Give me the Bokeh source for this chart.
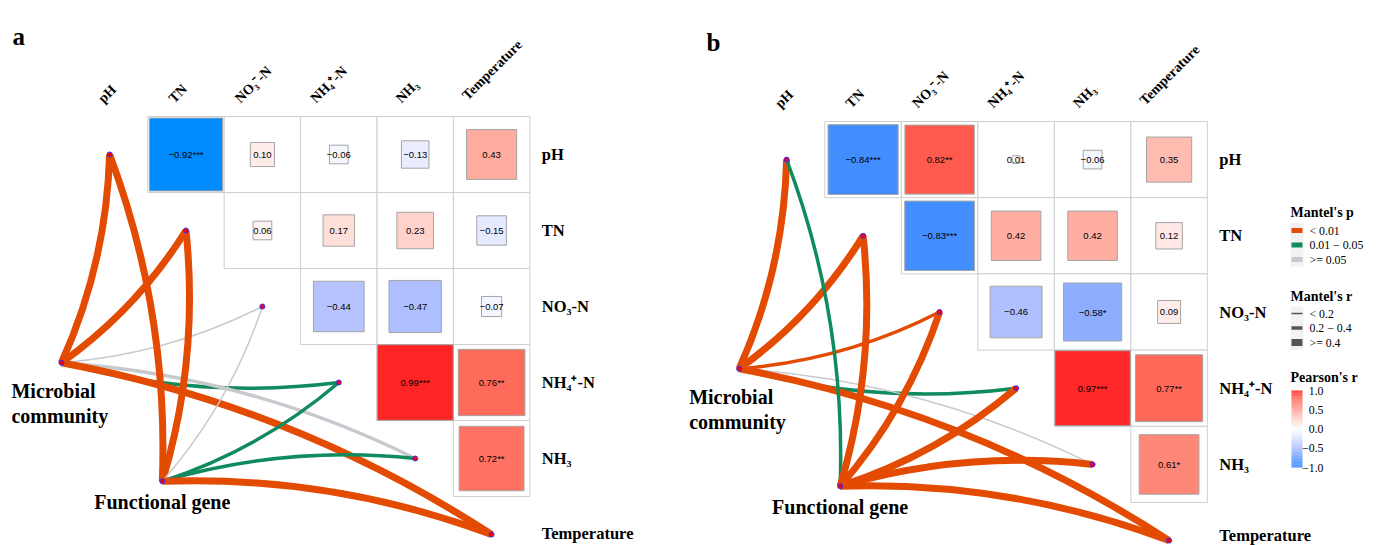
import numpy as np
from bokeh.plotting import figure
from bokeh.models import ColumnDataSource, Range1d, LinearColorMapper
from bokeh.layouts import row
from bokeh.embed import file_html
from bokeh.resources import INLINE
from bokeh.core.properties import value

# ---------------- data ----------------
variables = ["pH", "TN", "NO3-N", "NH4-N", "NH3", "Temperature"]
header_labels = ["pH", "TN", "NO\u2083\u207b-N", "NH\u2084\u207a-N", "NH\u2083", "Temperature"]
row_labels = ["pH", "TN", "NO\u2083-N", "NH\u2084\u207a-N", "NH\u2083", "Temperature"]

# Pearson's r, upper triangle (row i, columns i+1 ... 5)
a_r = [[-0.92, 0.10, -0.06, -0.13, 0.43],
       [0.06, 0.17, 0.23, -0.15],
       [-0.44, -0.47, -0.07],
       [0.99, 0.76],
       [0.72]]
a_sig = [["***", "", "", "", ""],
         ["", "", "", ""],
         ["", "", ""],
         ["***", "**"],
         ["**"]]

b_r = [[-0.84, 0.82, 0.01, -0.06, 0.35],
       [-0.83, 0.42, 0.42, 0.12],
       [-0.46, -0.58, 0.09],
       [0.97, 0.77],
       [0.61]]
b_sig = [["***", "**", "", "", ""],
         ["***", "", "", ""],
         ["", "*", ""],
         ["***", "**"],
         ["*"]]

spec_names = ["Microbial community", "Functional gene"]
mantel_p_classes = ["< 0.01", "0.01 \u2212 0.05", ">= 0.05"]
mantel_r_classes = ["< 0.2", "0.2 \u2212 0.4", ">= 0.4"]

P1, P2, P3 = mantel_p_classes
R1, R2, R3 = mantel_r_classes

# Mantel test classes for each env variable (pH, TN, NO3, NH4, NH3, Temperature)
a_micro_p = [P1, P1, P3, P2, P3, P1]
a_micro_r = [R3, R3, R1, R2, R2, R3]
a_func_p = [P1, P1, P3, P2, P2, P1]
a_func_r = [R3, R3, R1, R2, R2, R3]

b_micro_p = [P1, P1, P1, P2, P3, P1]
b_micro_r = [R3, R3, R2, R2, R1, R3]
b_func_p = [P2, P1, P1, P1, P1, P1]
b_func_r = [R2, R3, R3, R3, R3, R3]

pearson_ticks = [1.0, 0.5, 0.0, -0.5, -1.0]

# ---------------- styles ----------------
p_colors = {P1: "#E34B02", P2: "#0F8B5E", P3: "#C8C9CE"}
r_widths = {R1: 1.5, R2: 3.5, R3: 7.0}

SERIF = value("Liberation Serif")
SANS = value("Liberation Sans")

pos_stops = [(0.0, (255, 255, 255)), (0.35, (255, 188, 176)), (0.61, (255, 136, 120)),
             (0.77, (255, 106, 90)), (0.97, (255, 42, 42)), (1.0, (255, 35, 35))]
stops_a = [(-1.0, (0, 130, 255)), (-0.92, (0, 140, 255)), (-0.45, (182, 194, 255))] + pos_stops
stops_b = [(-1.0, (50, 135, 255)), (-0.83, (68, 143, 255)), (-0.58, (144, 174, 255)),
           (-0.46, (176, 192, 255))] + pos_stops

header_dx = [-9, -15, -25, -26, -17, -27]
header_dy = [-16, -16, -16, -16, -16, -19]

PAGE_H = 545


def build_palette(stops, n=256):
    t = np.linspace(-1, 1, n)
    pos = [s[0] for s in stops]
    chans = []
    for c in range(3):
        chans.append(np.interp(t, pos, [s[1][c] for s in stops]))
    return ["#%02x%02x%02x" % (int(round(r)), int(round(g)), int(round(b)))
            for r, g, b in zip(*chans)]


def fmt(r, s):
    txt = "%.2f" % r
    return txt.replace("-", "\u2212") + s


def make_panel(r_rows, sig_rows, mp, mr, fp, fr, spec_xy, stops,
               px0, py0, cw, ch, left_px, width, letter, letter_px, row_dy,
               legend=False):
    X = lambda px: (px - px0) / cw
    Y = lambda py: 5 - (py - py0) / ch
    height = PAGE_H
    p = figure(width=width, height=height,
               x_range=Range1d(X(left_px), X(left_px + width)),
               y_range=Range1d(Y(height), Y(0)),
               output_backend="svg", toolbar_location=None,
               x_axis_location=None, y_axis_location=None, min_border=0)
    p.grid.visible = False
    p.outline_line_color = None
    p.background_fill_color = "white"
    p.border_fill_color = "white"

    mapper = LinearColorMapper(palette=build_palette(stops), low=-1, high=1)

    xs, ys, rs, txt, side = [], [], [], [], []
    for i, (vals, sigs) in enumerate(zip(r_rows, sig_rows)):
        for k, (r, s) in enumerate(zip(vals, sigs)):
            j = i + 1 + k
            xs.append(j)
            ys.append(5 - i)
            rs.append(r)
            txt.append(fmt(r, s))
            side.append(np.sqrt(abs(r)))
    src = ColumnDataSource(dict(x=xs, y=ys, r=rs, t=txt, s=side))
    p.rect("x", "y", width=1, height=1, source=src, fill_color="white",
           line_color="#CFCFCF", line_width=1)
    p.rect("x", "y", width="s", height="s", source=src,
           fill_color={"field": "r", "transform": mapper},
           line_color="#A4A4A4", line_width=1)
    p.text("x", "y", text="t", source=src, text_font=SANS, text_font_size="9.5px",
           text_align="center", text_baseline="middle", text_color="black")

    # Mantel links
    envx = [k for k in range(6)]
    envy = [5 - k for k in range(6)]
    cx0, cy0, cx1, cy1, ccx, ccy, col, lw = [], [], [], [], [], [], [], []
    for (sx, sy), pcl, rcl in zip(spec_xy, [mp, fp], [mr, fr]):
        for k in range(6):
            ex, ey = envx[k], envy[k]
            dx, dy = ex - sx, ey - sy
            sgn = 1 if k < 4 else -1
            mx, my = (sx + ex) / 2, (sy + ey) / 2
            cx0.append(sx); cy0.append(sy); cx1.append(ex); cy1.append(ey)
            ccx.append(mx + sgn * 0.1 * dy)
            ccy.append(my - sgn * 0.1 * dx)
            col.append(p_colors[pcl[k]])
            lw.append(r_widths[rcl[k]])
    lsrc = ColumnDataSource(dict(x0=cx0, y0=cy0, x1=cx1, y1=cy1, cx=ccx, cy=ccy, c=col, w=lw))
    p.quadratic(x0="x0", y0="y0", x1="x1", y1="y1", cx="cx", cy="cy",
                line_color="c", line_width="w", source=lsrc)

    # nodes
    nx = envx + [xy[0] for xy in spec_xy]
    ny = envy + [xy[1] for xy in spec_xy]
    p.scatter(nx, ny, size=5, fill_color="#FF0000", line_color="#3030FF", line_width=1)

    # column headers
    p.text(x=envx, y=[5.5] * 6, text=header_labels, angle=45, angle_units="deg",
           x_offset=header_dx, y_offset=header_dy, text_align="left",
           text_baseline="middle", text_font=SERIF, text_font_style="bold",
           text_font_size="14px")
    # row labels
    p.text(x=[5.5] * 6, y=envy, text=row_labels, x_offset=12, y_offset=row_dy,
           text_align="left", text_baseline="middle",
           text_font=SERIF, text_font_style="bold", text_font_size="16.5px")

    # spec labels
    (mx_, my_), (fx_, fy_) = spec_xy
    p.text(x=[mx_, mx_], y=[my_, my_], text=["Microbial", "community"],
           x_offset=-50, y_offset=[28, 53], text_align="left", text_baseline="middle",
           text_font=SERIF, text_font_style="bold", text_font_size="20px")
    p.text(x=[fx_], y=[fy_], text=["Functional gene"], y_offset=21,
           text_align="center", text_baseline="middle",
           text_font=SERIF, text_font_style="bold", text_font_size="20px")

    # panel letter
    p.text(x=[X(letter_px[0])], y=[Y(letter_px[1])], text=[letter],
           text_align="left", text_baseline="middle",
           text_font=SERIF, text_font_style="bold", text_font_size="25px")

    if legend:
        lx = 1290
        tfs = "14px"
        lfs = "11.8px"
        # Mantel's p
        p.text(x=[X(lx)], y=[Y(212)], text=["Mantel's p"], text_align="left",
               text_baseline="middle", text_font=SERIF, text_font_style="bold",
               text_font_size=tfs)
        ky = [230, 244.5, 259]
        p.rect(x=[X(1296.5)] * 3, y=[Y(v) for v in ky], width=13, height=14.5,
               width_units="screen", height_units="screen",
               fill_color="#F2F2F2", line_color=None)
        p.rect(x=[X(1296.5)] * 3, y=[Y(v) for v in ky], width=11, height=5,
               width_units="screen", height_units="screen",
               fill_color=[p_colors[c] for c in mantel_p_classes], line_color=None)
        p.text(x=[X(1309)] * 3, y=[Y(v) for v in ky], text=mantel_p_classes,
               text_align="left", text_baseline="middle", text_font=SERIF,
               text_font_size=lfs)
        # Mantel's r
        p.text(x=[X(lx)], y=[Y(296)], text=["Mantel's r"], text_align="left",
               text_baseline="middle", text_font=SERIF, text_font_style="bold",
               text_font_size=tfs)
        ky2 = [313, 327.5, 342]
        p.rect(x=[X(1296.5)] * 3, y=[Y(v) for v in ky2], width=13, height=14.5,
               width_units="screen", height_units="screen",
               fill_color="#F2F2F2", line_color=None)
        p.rect(x=[X(1296.5)] * 3, y=[Y(v) for v in ky2], width=11,
               height=[r_widths[c] for c in mantel_r_classes],
               width_units="screen", height_units="screen",
               fill_color="#555555", line_color=None)
        p.text(x=[X(1309)] * 3, y=[Y(v) for v in ky2], text=mantel_r_classes,
               text_align="left", text_baseline="middle", text_font=SERIF,
               text_font_size=lfs)
        # Pearson's r colour bar
        p.text(x=[X(lx)], y=[Y(377)], text=["Pearson's r"], text_align="left",
               text_baseline="middle", text_font=SERIF, text_font_style="bold",
               text_font_size=tfs)
        vals = np.linspace(-1, 1, 101)
        edges = np.linspace(-1, 1, 102)
        ypix = lambda v: 428.5 - v * 38.5
        cb = ColumnDataSource(dict(v=vals, top=[Y(ypix(e)) for e in edges[1:]],
                                   bottom=[Y(ypix(e)) for e in edges[:-1]]))
        p.quad(left=X(1291), right=X(1302), top="top", bottom="bottom", source=cb,
               fill_color={"field": "v", "transform": mapper}, line_color=None)
        p.text(x=[X(1323)] * 5, y=[Y(ypix(v)) for v in pearson_ticks],
               text=[("%.1f" % v).replace("-", "\u2212") for v in pearson_ticks],
               text_align="right", text_baseline="middle", text_font=SERIF,
               text_font_size=lfs)
    return p


pa = make_panel(a_r, a_sig, a_micro_p, a_micro_r, a_func_p, a_func_r,
                [(-0.63, 2.26), (0.69, 0.70)], stops_a,
                109.1, 154.0, 76.4, 76.0, 0, 680, "a", (12, 35.5),
                [0, 0, 0, 0, 0, -1])
pb = make_panel(b_r, b_sig, b_micro_p, b_micro_r, b_func_p, b_func_r,
                [(-0.62, 2.255), (0.70, 0.714)], stops_b,
                786.1, 159.1, 76.5, 76.2, 680, 696, "b", (706, 41.5),
                [0, 0, 0, 0, 0, -5], legend=True)

layout = row(pa, pb)
open("out.html", "w").write(file_html(layout, INLINE))
